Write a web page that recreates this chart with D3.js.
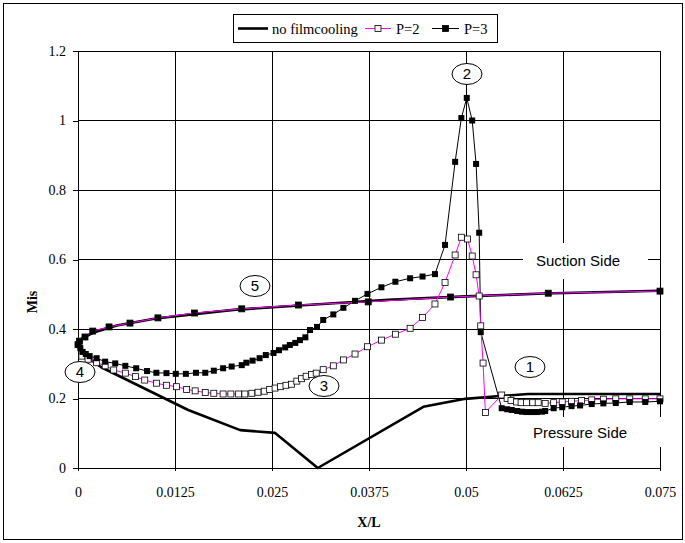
<!DOCTYPE html>
<html>
<head>
<meta charset="utf-8">
<script src="https://cdn.jsdelivr.net/npm/d3@7"></script>
<style>
  body { margin: 0; background: #fff; }
  svg text { font-family: "Liberation Serif", "Times New Roman", serif; }
  .note { font-family: "Liberation Sans", Arial, sans-serif; }
</style>
</head>
<body>
<svg id="chart" width="685" height="543"></svg>
<script>
// ---- data ----
const xTicks = [0, 0.0125, 0.025, 0.0375, 0.05, 0.0625, 0.075];
const xTickLabels = ["0", "0.0125", "0.025", "0.0375", "0.05", "0.0625", "0.075"];
const yTicks = [0, 0.2, 0.4, 0.6, 0.8, 1, 1.2];
const yTickLabels = ["0", "0.2", "0.4", "0.6", "0.8", "1", "1.2"];

// no filmcooling: pressure side trailing -> leading edge -> suction side trailing
const noFilmX = [0.075, 0.065, 0.058, 0.0544, 0.0499, 0.0445, 0.0309, 0.0254, 0.0209, 0.0142, 0.003, 0.0005, 0.0,
  0.0003, 0.002, 0.005, 0.01, 0.02, 0.03, 0.04, 0.05, 0.06, 0.075];
const noFilmY = [0.213, 0.213, 0.213, 0.207, 0.199, 0.176, 0.0, 0.101, 0.109, 0.167, 0.29, 0.33, 0.35,
  0.37, 0.39, 0.41, 0.43, 0.455, 0.47, 0.484, 0.494, 0.502, 0.51];

// suction side (shared by P=2 and P=3), trailing edge -> leading edge
const suctionX = [0.075, 0.0606, 0.048, 0.0374, 0.0284, 0.0211, 0.015, 0.0103, 0.0067, 0.004, 0.0019, 0.0009, 0.0002, 0.0];
const suctionY = [0.509, 0.503, 0.492, 0.478, 0.469, 0.458, 0.446, 0.432, 0.417, 0.406, 0.394, 0.377, 0.365, 0.355];

// P=3 pressure side, leading edge -> trailing edge
const p3X = [0.0003, 0.0006, 0.001, 0.0015, 0.0024, 0.0035, 0.0048, 0.0061, 0.0075, 0.0089, 0.0101, 0.0114, 0.0126,
  0.0139, 0.0152, 0.0164, 0.0175, 0.0187, 0.0198, 0.0211, 0.0217, 0.0225, 0.0234, 0.0242, 0.0252, 0.0259, 0.0267,
  0.0273, 0.028, 0.0286, 0.0293, 0.0299, 0.0308, 0.0316, 0.0329, 0.0342, 0.0357, 0.0373, 0.0391, 0.0409, 0.0428,
  0.0444, 0.046, 0.0473, 0.0486, 0.0494, 0.0501, 0.0508, 0.0513, 0.0517, 0.0519,
  0.0546, 0.0553, 0.0559, 0.0566, 0.0572, 0.0578, 0.0585, 0.0591, 0.0598, 0.0602, 0.0613, 0.0624, 0.0636, 0.0647,
  0.0662, 0.0677, 0.0693, 0.0711, 0.0731, 0.075];
const p3Y = [0.345, 0.334, 0.328, 0.322, 0.316, 0.306, 0.301, 0.294, 0.287, 0.279, 0.274, 0.273, 0.271,
  0.271, 0.274, 0.274, 0.28, 0.287, 0.292, 0.296, 0.303, 0.309, 0.316, 0.325, 0.331, 0.339, 0.347,
  0.354, 0.36, 0.368, 0.376, 0.397, 0.406, 0.426, 0.442, 0.461, 0.481, 0.501, 0.52, 0.536, 0.546,
  0.551, 0.558, 0.642, 0.881, 1.007, 1.065, 1.0, 0.875, 0.677, 0.391,
  0.172, 0.169, 0.167, 0.164, 0.162, 0.161, 0.161, 0.161, 0.162, 0.164, 0.172, 0.175, 0.178, 0.18,
  0.184, 0.186, 0.187, 0.19, 0.19, 0.192];

// P=2 pressure side, leading edge -> trailing edge
const p2X = [0.0005, 0.0013, 0.0024, 0.0035, 0.0046, 0.0061, 0.0074, 0.0086, 0.0101, 0.0114, 0.0127, 0.014, 0.0151,
  0.0164, 0.0175, 0.0187, 0.0197, 0.0207, 0.0215, 0.0224, 0.0232, 0.024, 0.0247, 0.0254, 0.0261, 0.0268, 0.0275,
  0.0282, 0.0288, 0.0294, 0.0301, 0.0307, 0.0316, 0.0329, 0.0342, 0.0357, 0.0373, 0.0391, 0.0409, 0.0428, 0.0444,
  0.046, 0.0473, 0.0486, 0.0494, 0.0502, 0.0508, 0.0513, 0.0517, 0.0519, 0.0522, 0.0525,
  0.0546, 0.0553, 0.0558, 0.0565, 0.0571, 0.0578, 0.0586, 0.0593, 0.0602, 0.0613, 0.0624, 0.0636, 0.0649, 0.0662,
  0.0677, 0.0693, 0.0711, 0.0731, 0.075];
const p2Y = [0.322, 0.313, 0.303, 0.294, 0.282, 0.273, 0.263, 0.253, 0.244, 0.238, 0.234, 0.226, 0.222,
  0.217, 0.215, 0.213, 0.213, 0.213, 0.213, 0.215, 0.218, 0.221, 0.226, 0.23, 0.234, 0.238, 0.241,
  0.25, 0.257, 0.264, 0.269, 0.273, 0.283, 0.294, 0.311, 0.328, 0.349, 0.368, 0.385, 0.402, 0.433,
  0.472, 0.534, 0.613, 0.664, 0.659, 0.61, 0.556, 0.495, 0.409, 0.302, 0.16,
  0.21, 0.2, 0.194, 0.19, 0.188, 0.188, 0.188, 0.188, 0.186, 0.188, 0.19, 0.192, 0.194, 0.196,
  0.198, 0.199, 0.199, 0.199, 0.199];

const seriesNames = ["no filmcooling", "P=2", "P=3"];

// ---- chart ----
const svg = d3.select("#chart");
const x = d3.scaleLinear().domain([0, 0.075]).range([78, 660]);
const y = d3.scaleLinear().domain([0, 1.2]).range([468, 51]);

// outer frame
svg.append("rect").attr("x", 3.5).attr("y", 3.5).attr("width", 679).attr("height", 536)
  .attr("fill", "#fff").attr("stroke", "#000").attr("stroke-width", 1);

// grid
const grid = svg.append("g").attr("stroke", "#000").attr("stroke-width", 1).attr("shape-rendering", "crispEdges");
grid.selectAll(".gx").data(xTicks.slice(1)).enter().append("line")
  .attr("x1", d => x(d)).attr("x2", d => x(d)).attr("y1", y(0)).attr("y2", y(1.2));
grid.selectAll(".gy").data(yTicks.slice(1)).enter().append("line")
  .attr("x1", x(0)).attr("x2", x(0.075)).attr("y1", d => y(d)).attr("y2", d => y(d));

// white boxes behind side labels
svg.append("rect").attr("x", 523).attr("y", 243).attr("width", 125).attr("height", 36).attr("fill", "#fff");
svg.append("rect").attr("x", 523).attr("y", 417).attr("width", 138).attr("height", 30).attr("fill", "#fff");

// axes
const xAxis = svg.append("g").attr("transform", "translate(0," + y(0) + ")")
  .call(d3.axisBottom(x).tickValues(xTicks).tickFormat((d, i) => xTickLabels[i]).tickSize(3).tickPadding(16).tickSizeOuter(0));
const yAxis = svg.append("g").attr("transform", "translate(" + x(0) + ",0)")
  .call(d3.axisLeft(y).tickValues(yTicks).tickFormat((d, i) => yTickLabels[i]).tickSize(5).tickPadding(7).tickSizeOuter(0));
[xAxis, yAxis].forEach(a => {
  a.select(".domain").attr("stroke", "#000").attr("shape-rendering", "crispEdges");
  a.selectAll(".tick line").attr("stroke", "#000").attr("shape-rendering", "crispEdges");
  a.selectAll("text").style("font-family", "Liberation Serif").style("font-size", "14px").attr("fill", "#000");
});

svg.append("text").attr("x", 369).attr("y", 527).attr("text-anchor", "middle")
  .attr("font-weight", "bold").attr("font-size", 14).text("X/L");
svg.append("text").attr("transform", "translate(37,302) rotate(-90)").attr("text-anchor", "middle")
  .attr("font-weight", "bold").attr("font-size", 14).text("Mis");

const line = d3.line().x(d => x(d[0])).y(d => y(d[1]));
const zip = (a, b) => a.map((v, i) => [v, b[i]]);

const noFilm = zip(noFilmX, noFilmY);
const p3 = zip(suctionX, suctionY).concat(zip(p3X, p3Y));
const p2 = zip(suctionX, suctionY).concat(zip(p2X, p2Y));

svg.append("path").datum(noFilm).attr("d", line).attr("fill", "none")
  .attr("stroke", "#000").attr("stroke-width", 2.6).attr("stroke-linejoin", "round");
svg.append("path").datum(p3).attr("d", line).attr("fill", "none")
  .attr("stroke", "#000").attr("stroke-width", 1);
svg.append("path").datum(p2).attr("d", line).attr("fill", "none")
  .attr("stroke", "#ff00ff").attr("stroke-width", 1);

const ms = 6;
svg.append("g").selectAll("rect").data(p2).enter().append("rect")
  .attr("x", d => x(d[0]) - ms / 2).attr("y", d => y(d[1]) - ms / 2)
  .attr("width", ms).attr("height", ms).attr("fill", "#fff").attr("stroke", "#000").attr("stroke-width", 0.8);
svg.append("g").selectAll("rect").data(p3).enter().append("rect")
  .attr("x", d => x(d[0]) - ms / 2).attr("y", d => y(d[1]) - ms / 2)
  .attr("width", ms).attr("height", ms).attr("fill", "#000");

// annotations
const notes = [["1", 530, 367], ["2", 467, 74], ["3", 324, 386], ["4", 80, 372], ["5", 255, 286]];
const ng = svg.append("g").selectAll("g").data(notes).enter().append("g");
ng.append("ellipse").attr("cx", d => d[1]).attr("cy", d => d[2]).attr("rx", 15).attr("ry", 10.5)
  .attr("fill", "#fff").attr("stroke", "#000").attr("stroke-width", 1);
ng.append("text").attr("class", "note").attr("x", d => d[1]).attr("y", d => d[2] + 5)
  .attr("text-anchor", "middle").attr("font-size", 15).text(d => d[0]);

svg.append("text").attr("class", "note").attr("x", 578).attr("y", 266).attr("text-anchor", "middle")
  .attr("font-size", 15).text("Suction Side");
svg.append("text").attr("class", "note").attr("x", 580).attr("y", 438).attr("text-anchor", "middle")
  .attr("font-size", 15).text("Pressure Side");

// legend
const lg = svg.append("g");
lg.append("rect").attr("x", 233.5).attr("y", 14.5).attr("width", 264).attr("height", 28)
  .attr("fill", "#fff").attr("stroke", "#000");
const legendItems = [
  { name: seriesNames[0], x0: 238, x1: 268, tx: 272, color: "#000", w: 2.6, marker: null },
  { name: seriesNames[1], x0: 365, x1: 391, tx: 396, color: "#ff00ff", w: 1, marker: "#fff" },
  { name: seriesNames[2], x0: 432, x1: 459, tx: 464, color: "#000", w: 1, marker: "#000" }
];
legendItems.forEach(it => {
  lg.append("line").attr("x1", it.x0).attr("x2", it.x1).attr("y1", 28.5).attr("y2", 28.5)
    .attr("stroke", it.color).attr("stroke-width", it.w);
  if (it.marker) {
    lg.append("rect").attr("x", (it.x0 + it.x1) / 2 - ms / 2).attr("y", 28.5 - ms / 2)
      .attr("width", ms).attr("height", ms).attr("fill", it.marker).attr("stroke", "#000").attr("stroke-width", 0.8);
  }
  lg.append("text").attr("x", it.tx).attr("y", 33.5).attr("font-size", 14.5).text(it.name);
});
</script>
</body>
</html>
